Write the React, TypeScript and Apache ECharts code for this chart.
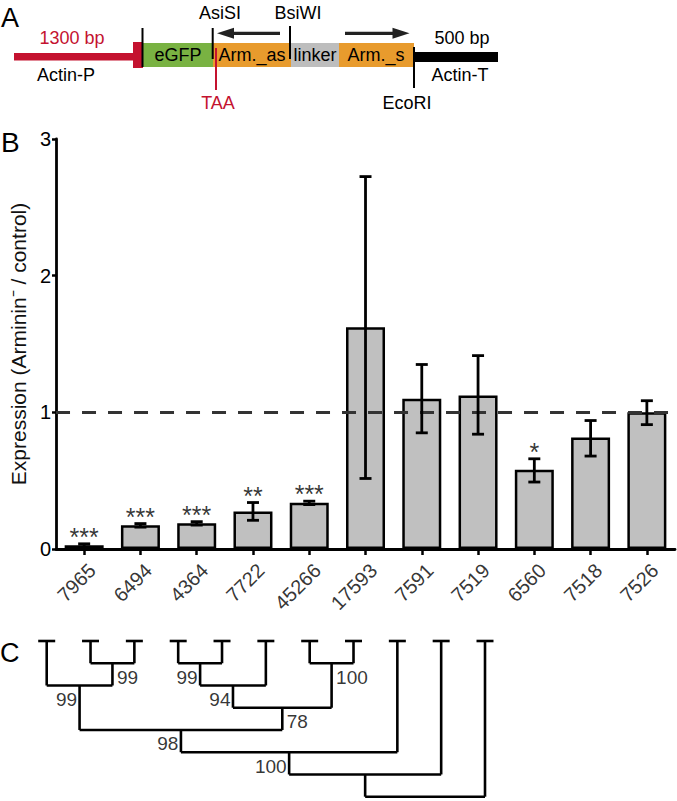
import React, { useEffect, useRef } from 'react';
import * as echarts from 'echarts';

// ---------- Panel B data ----------
const categories = ['7965', '6494', '4364', '7722', '45266', '17593', '7591', '7519', '6560', '7518', '7526'];
const expression = [0.027, 0.173, 0.188, 0.275, 0.338, 1.623, 1.1, 1.124, 0.58, 0.815, 1.0];
const errorLow = [0.015, 0.16, 0.175, 0.21, 0.325, 0.516, 0.85, 0.84, 0.49, 0.68, 0.91];
const errorHigh = [0.038, 0.186, 0.2, 0.34, 0.35, 2.725, 1.35, 1.415, 0.66, 0.94, 1.085];
const significance = ['***', '***', '***', '**', '***', '', '', '', '*', '', ''];
const referenceLevel = 1;
const yMin = 0;
const yMax = 3;
const yInterval = 1;

// ---------- Panel C data (dendrogram) ----------
const leafCount = 11;
const nodeLeft = [1, 0, 3, 13, 6, 14, 12, 17, 18, 19];
const nodeRight = [2, 11, 4, 5, 7, 15, 16, 8, 9, 10];
const nodeHeight = [1, 2, 1, 2, 1, 3, 4, 5, 6, 7];
const nodeSupport = ['99', '99', '99', '94', '100', '78', '98', '100', '', ''];
const nodeSupportSide = ['right', 'left', 'left', 'left', 'right', 'right', 'left', 'left', '', ''];

const FONT = "'Liberation Sans', Arial, Helvetica, sans-serif";
const RED = '#c4122f';
const GREEN = '#79b242';
const ORANGE = '#e89b2d';
const GREY = '#bdbdbd';

function buildTree() {
  const nx: number[] = [];
  const nh: number[] = [];
  for (let i = 0; i < leafCount; i++) {
    nx[i] = i;
    nh[i] = 0;
  }
  const segs: number[][] = [];
  for (let i = 0; i < leafCount; i++) segs.push([i, 0, i, 0, 1]);
  const labels: any[] = [];
  nodeLeft.forEach((l, k) => {
    const r = nodeRight[k];
    const id = leafCount + k;
    const h = nodeHeight[k];
    nx[id] = (nx[l] + nx[r]) / 2;
    nh[id] = h;
    segs.push([nx[l], h, nx[r], h, 0]);
    segs.push([nx[l], nh[l], nx[l], h, 0]);
    segs.push([nx[r], nh[r], nx[r], h, 0]);
    if (nodeSupport[k]) {
      labels.push({
        value: [nx[id], h],
        label: {
          show: true,
          formatter: nodeSupport[k],
          position: nodeSupportSide[k],
          distance: nodeSupportSide[k] === 'left' ? 2 : 4,
          offset: [0, 14],
          fontSize: 19,
          fontFamily: FONT,
          color: '#000',
        },
      });
    }
  });
  return { segs, labels };
}

function txt(text: string, x: number, y: number, opts: any = {}) {
  return {
    type: 'text',
    x,
    y,
    style: {
      text,
      fill: opts.fill || '#000',
      fontSize: opts.fontSize || 18,
      fontFamily: FONT,
      align: opts.align || 'center',
      verticalAlign: 'middle',
    },
  };
}

function vline(x: number, y1: number, y2: number, color = '#000', w = 2) {
  return { type: 'line', shape: { x1: x, y1, x2: x, y2 }, style: { stroke: color, lineWidth: w } };
}

function rect(x: number, y: number, width: number, height: number, fill: string) {
  return { type: 'rect', shape: { x, y, width, height }, style: { fill } };
}

export default function App() {
  const ref = useRef<HTMLDivElement>(null);
  useEffect(() => {
    if (!ref.current) return;
    const chart = echarts.init(ref.current, undefined, { renderer: 'svg' });
    const { segs, labels } = buildTree();

    const graphic: any[] = [
      // panel letters
      txt('A', 1, 18, { fontSize: 27, align: 'left' }),
      txt('B', 1, 142, { fontSize: 28, align: 'left' }),
      txt('C', 0, 653, { fontSize: 27, align: 'left' }),
      // construct schematic
      rect(14, 53, 121, 7.5, RED),
      rect(133, 42, 10, 26, RED),
      rect(142, 43, 71, 24, GREEN),
      rect(213, 43, 78, 24, ORANGE),
      rect(291, 43, 48, 24, GREY),
      rect(339, 43, 75, 24, ORANGE),
      rect(413, 52, 85, 10, '#000'),
      vline(142.5, 28, 67),
      vline(212.7, 28, 59),
      vline(216, 48, 90, RED),
      vline(290, 26, 59),
      vline(414, 47, 88),
      { type: 'line', shape: { x1: 232, y1: 33.3, x2: 280, y2: 33.3 }, style: { stroke: '#222', lineWidth: 3.2 } },
      { type: 'polygon', shape: { points: [[217, 33.3], [234, 27.8], [234, 38.8]] }, style: { fill: '#222' } },
      { type: 'line', shape: { x1: 345, y1: 33.3, x2: 394, y2: 33.3 }, style: { stroke: '#222', lineWidth: 3.2 } },
      { type: 'polygon', shape: { points: [[409.5, 33.3], [392.5, 27.8], [392.5, 38.8]] }, style: { fill: '#222' } },
      txt('AsiSI', 220, 13),
      txt('BsiWI', 298, 13),
      txt('1300 bp', 72, 38, { fill: RED }),
      txt('500 bp', 462, 38),
      txt('Actin-P', 66, 75),
      txt('Actin-T', 460, 75),
      txt('eGFP', 178, 55),
      txt('Arm._as', 252, 55),
      txt('linker', 315, 55),
      txt('Arm._s', 376, 55),
      txt('TAA', 218, 103, { fill: RED }),
      txt('EcoRI', 407, 103),
    ];

    chart.setOption({
      animation: false,
      backgroundColor: '#fff',
      textStyle: { fontFamily: FONT },
      graphic,
      grid: [
        { left: 49, top: 139, width: 626, height: 410, containLabel: false },
        { left: 46.7, top: 641, width: 438.3, height: 155.7, containLabel: false },
      ],
      xAxis: [
        {
          type: 'category',
          gridIndex: 0,
          data: categories,
          axisLine: { show: true, lineStyle: { color: '#000', width: 2.8 } },
          axisTick: { show: true, alignWithLabel: true, length: 6, lineStyle: { color: '#000', width: 2.5 } },
          axisLabel: { show: false },
          splitLine: { show: false },
        },
        { type: 'value', gridIndex: 1, min: 0, max: leafCount - 1, show: false },
      ],
      yAxis: [
        {
          type: 'value',
          gridIndex: 0,
          min: yMin,
          max: yMax,
          interval: yInterval,
          name: 'Expression (Arminin⁻ / control)',
          nameLocation: 'middle',
          nameGap: 27,
          nameTextStyle: { fontSize: 21, color: '#111', fontFamily: FONT },
          axisLine: { show: true, lineStyle: { color: '#000', width: 2.8 } },
          axisTick: { show: true, length: 4, lineStyle: { color: '#000', width: 2.5 } },
          axisLabel: { fontSize: 20, margin: 5, color: '#000', fontFamily: FONT },
          splitLine: { show: false },
        },
        { type: 'value', gridIndex: 1, min: 0, max: 7, inverse: true, show: false },
      ],
      series: [
        {
          type: 'bar',
          xAxisIndex: 0,
          yAxisIndex: 0,
          data: expression,
          barWidth: 39,
          itemStyle: { color: '#c0c0c0', borderColor: '#000', borderWidth: 2.5 },
          markLine: {
            silent: true,
            symbol: 'none',
            label: { show: false },
            lineStyle: { color: '#333', width: 2.8, type: [14, 12] },
            data: [{ yAxis: referenceLevel }],
            z: 5,
          },
        },
        {
          type: 'custom',
          xAxisIndex: 0,
          yAxisIndex: 0,
          z: 10,
          data: categories.map((_, i) => [i, errorLow[i], errorHigh[i]]),
          encode: { x: 0, y: [1, 2] },
          renderItem: (_p: any, api: any) => {
            const xi = api.value(0);
            const lo = api.coord([xi, api.value(1)]);
            const hi = api.coord([xi, api.value(2)]);
            const hw = 6;
            const style = { stroke: '#000', lineWidth: 2.8 };
            return {
              type: 'group',
              children: [
                { type: 'line', shape: { x1: lo[0], y1: lo[1], x2: hi[0], y2: hi[1] }, style },
                { type: 'line', shape: { x1: lo[0] - hw, y1: lo[1], x2: lo[0] + hw, y2: lo[1] }, style },
                { type: 'line', shape: { x1: hi[0] - hw, y1: hi[1], x2: hi[0] + hw, y2: hi[1] }, style },
              ],
            };
          },
        },
        {
          type: 'scatter',
          xAxisIndex: 0,
          yAxisIndex: 0,
          symbolSize: 1,
          itemStyle: { color: 'rgba(0,0,0,0)' },
          data: categories.map((_, i) => [i, errorHigh[i]]),
          label: {
            show: true,
            position: 'inside',
            offset: [0, -7],
            fontSize: 25,
            color: '#000',
            fontFamily: FONT,
            formatter: (p: any) => significance[p.dataIndex],
          },
          z: 11,
        },
        {
          // category tick labels, rotated 45 degrees (offset is applied in the rotated frame)
          type: 'scatter',
          xAxisIndex: 0,
          yAxisIndex: 0,
          symbolSize: 1,
          clip: false,
          itemStyle: { color: 'rgba(0,0,0,0)' },
          data: categories.map((_, i) => [i, yMin]),
          label: {
            show: true,
            position: 'inside',
            rotate: 45,
            align: 'right',
            verticalAlign: 'middle',
            offset: [-7, 18.4],
            fontSize: 20,
            color: '#000',
            fontFamily: FONT,
            formatter: (p: any) => categories[p.dataIndex],
          },
          z: 11,
        },
        {
          type: 'custom',
          xAxisIndex: 1,
          yAxisIndex: 1,
          clip: false,
          data: segs,
          encode: { x: [0, 2], y: [1, 3] },
          renderItem: (_p: any, api: any) => {
            const a = api.coord([api.value(0), api.value(1)]);
            const b = api.coord([api.value(2), api.value(3)]);
            const isCap = api.value(4) === 1;
            const style = { stroke: '#000', lineWidth: 2.6 };
            if (isCap) {
              return { type: 'line', shape: { x1: a[0] - 8.5, y1: a[1], x2: a[0] + 8.5, y2: a[1] }, style };
            }
            return { type: 'line', shape: { x1: a[0], y1: a[1], x2: b[0], y2: b[1] }, style };
          },
        },
        {
          type: 'scatter',
          xAxisIndex: 1,
          yAxisIndex: 1,
          symbolSize: 1,
          itemStyle: { color: 'rgba(0,0,0,0)' },
          data: labels,
        },
      ],
    });
    return () => chart.dispose();
  }, []);
  return (
    <div
      ref={ref}
      style={{ position: 'fixed', left: 0, top: 0, width: 677, height: 801, background: '#fff' }}
    />
  );
}
